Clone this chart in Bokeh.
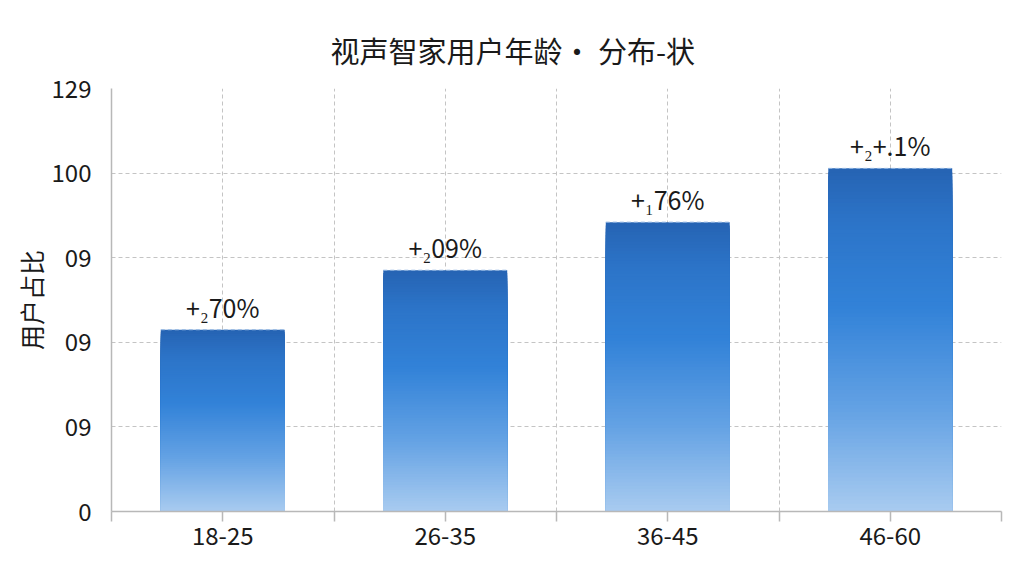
from bokeh.plotting import figure
from bokeh.models import FixedTicker, Range1d, ColumnDataSource
from bokeh.core.properties import value
from bokeh.embed import file_html
from bokeh.resources import INLINE

# ---- data ----
title_text = "视声智家用户年龄· 分布-状"
y_axis_title = "用户占比"
categories = ["18-25", "26-35", "36-45", "46-60"]
values = [53.7, 71.3, 85.5, 101.4]
bar_labels = ["+₂70%", "+₂09%", "+₁76%", "+₂+.1%"]
y_tick_values = [0, 25, 50, 75, 100, 125]
y_tick_labels = ["0", "09", "09", "09", "100", "129"]

FONT = "Noto Sans CJK SC"
n = len(categories)
xs = [i + 0.5 for i in range(n)]
BAR_W = 0.557

p = figure(width=1008, height=560, output_backend="svg", toolbar_location=None,
           x_range=Range1d(0, n), y_range=Range1d(0, y_tick_values[-1]),
           min_border_left=111, min_border_right=7, min_border_top=88,
           min_border_bottom=49)
p.outline_line_color = None
p.background_fill_color = "white"
p.border_fill_color = "white"

# title
p.title.text = title_text
p.title.text_font = FONT
p.title.text_font_size = "29px"
p.title.text_font_style = "normal"
p.title.text_color = "#1a1a1a"
p.title.align = "left"
p.title.offset = 219
p.title.standoff = 35

# gradient bars (stacked, shrinking quads -> no seams)
stops = [(0.0, (170, 204, 240)), (0.3, (100, 162, 228)), (0.6, (50, 130, 216)),
         (0.85, (44, 116, 200)), (1.0, (38, 100, 180))]

def grad(t):
    for (t0, c0), (t1, c1) in zip(stops[:-1], stops[1:]):
        if t0 <= t <= t1:
            f = (t - t0) / (t1 - t0)
            c = [round(a + (b - a) * f) for a, b in zip(c0, c1)]
            return "#%02x%02x%02x" % tuple(c)
    return "#%02x%02x%02x" % stops[-1][1]

N = 90
L, R, B, T, C = [], [], [], [], []
for x, v in zip(xs, values):
    for k in range(N, 0, -1):
        t = k / N
        L.append(x - BAR_W / 2)
        R.append(x + BAR_W / 2)
        B.append(0)
        T.append(v * t)
        C.append(grad(t))
p.quad(left="left", right="right", bottom="bottom", top="top", fill_color="color",
       line_color=None,
       source=ColumnDataSource(dict(left=L, right=R, bottom=B, top=T, color=C)))

# dashed light edge on top of bars
p.segment(x0=[x - BAR_W / 2 for x in xs], x1=[x + BAR_W / 2 for x in xs],
          y0=values, y1=values, line_color="#8fb4e2", line_dash="4 3", line_width=1)

# bar labels
p.text(x=xs, y=values, text=bar_labels, text_font=value(FONT), text_font_size="25px",
       text_color="#1a1a1a", text_align="center", text_baseline="bottom", y_offset=-5)

# x axis
x_ticks = [k * 0.5 for k in range(2 * n + 1)]
p.xaxis.ticker = FixedTicker(ticks=x_ticks)
overrides = {t: "" for t in x_ticks}
for x, c in zip(xs, categories):
    overrides[x] = c
p.xaxis.major_label_overrides = overrides
p.xaxis.major_label_text_font = FONT
p.xaxis.major_label_text_font_size = "24px"
p.xaxis.major_label_text_color = "#1a1a1a"
p.xaxis.major_label_standoff = 5
p.xaxis.axis_line_color = "#b8b8b8"
p.xaxis.axis_line_width = 1.5
p.xaxis.major_tick_line_color = "#b8b8b8"
p.xaxis.major_tick_line_width = 1.5
p.xaxis.major_tick_out = 10
p.xaxis.major_tick_in = 0
p.xaxis.minor_tick_line_color = None

# y axis
p.yaxis.ticker = FixedTicker(ticks=y_tick_values)
p.yaxis.major_label_overrides = {v: l for v, l in zip(y_tick_values, y_tick_labels)}
p.yaxis.major_label_text_font = FONT
p.yaxis.major_label_text_font_size = "24px"
p.yaxis.major_label_text_color = "#1a1a1a"
p.yaxis.major_label_standoff = 14
p.yaxis.axis_line_color = "#b8b8b8"
p.yaxis.axis_line_width = 1.5
p.yaxis.major_tick_line_color = None
p.yaxis.minor_tick_line_color = None
p.yaxis.axis_label = y_axis_title
p.yaxis.axis_label_text_font = FONT
p.yaxis.axis_label_text_font_size = "25px"
p.yaxis.axis_label_text_font_style = "normal"
p.yaxis.axis_label_text_color = "#1a1a1a"
p.yaxis.axis_label_standoff = 0

# grids
p.xgrid.ticker = FixedTicker(ticks=[k * 0.5 for k in range(1, 2 * n)])
for g in (p.xgrid, p.ygrid):
    g.grid_line_color = "#c4c4c4"
    g.grid_line_dash = "4 3"
    g.grid_line_width = 1

open("out.html", "w").write(file_html(p, INLINE))
